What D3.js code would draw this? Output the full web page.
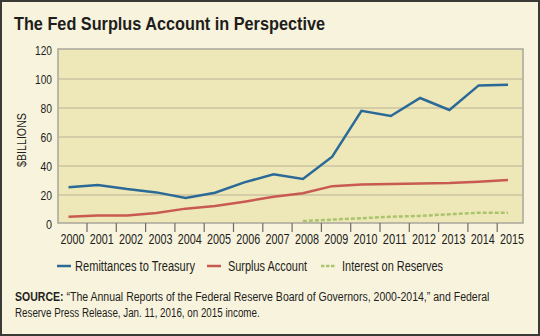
<!DOCTYPE html>
<html>
<head>
<meta charset="utf-8">
<script src="https://cdn.jsdelivr.net/npm/d3@7"></script>
<style>
  html, body { margin: 0; padding: 0; background: #f8f3dc; }
  svg { display: block; font-family: "Liberation Sans", Arial, sans-serif; }
</style>
</head>
<body>
<svg id="chart" width="540" height="336"></svg>
<script>
// Fed remittances, surplus account and interest on reserves, $ billions
var years = d3.range(2000, 2016);
var remittances = [25.3, 26.9, 24.1, 21.8, 17.9, 21.6, 28.7, 34.3, 31.1, 46.4, 78.1, 74.5, 86.9, 78.6, 95.6, 96.1];
var surplus = [5.0, 5.8, 5.9, 7.6, 10.6, 12.4, 15.4, 18.8, 21.2, 26.1, 27.3, 27.6, 28.0, 28.3, 29.2, 30.3];
var interestYears = d3.range(2008, 2016);
var interest = [2.0, 3.0, 4.0, 5.0, 5.6, 6.7, 7.8, 7.8];
var yTicks = [0, 20, 40, 60, 80, 100, 120];

var seriesNames = ["Remittances to Treasury", "Surplus Account", "Interest on Reserves"];
var seriesColors = ["#2b6a96", "#c85a52", "#a9c46c"];

var ink = "#1e1e1c";

// the type is a condensed face, so squeeze each text to its set width
function squeeze(sel, width) {
    sel.attr("textLength", width).attr("lengthAdjust", "spacingAndGlyphs");
}

var svg = d3.select("#chart");

// frame
svg.append("rect")
    .attr("x", 1).attr("y", 1)
    .attr("width", 538).attr("height", 334)
    .attr("fill", "#f8f3dc")
    .attr("stroke", "#3a3a36")
    .attr("stroke-width", 2);

svg.append("text")
    .attr("x", 14).attr("y", 29.5)
    .attr("font-size", 18.5)
    .attr("font-weight", "bold")
    .attr("fill", ink)
    .text("The Fed Surplus Account in Perspective")
    .call(squeeze, 311);

var plot = { left: 58, top: 49, right: 523, bottom: 223 };

var x = d3.scaleLinear().domain([2000, 2015]).range([68.5, 508]);
var y = d3.scaleLinear().domain([0, 120]).range([224, 50]);

svg.append("rect")
    .attr("x", plot.left).attr("y", plot.top)
    .attr("width", plot.right - plot.left)
    .attr("height", plot.bottom - plot.top)
    .attr("fill", "#eee7b8")
    .attr("stroke", "#a8a69c")
    .attr("stroke-width", 1.5);

// horizontal gridlines
svg.append("g")
  .selectAll("line")
  .data(yTicks.filter(function (d) { return d > 0 && d < 120; }))
  .join("line")
    .attr("x1", plot.left).attr("x2", plot.right)
    .attr("y1", function (d) { return y(d); })
    .attr("y2", function (d) { return y(d); })
    .attr("stroke", "#b9b295")
    .attr("stroke-width", 1.2);

// y axis labels
var yAxis = svg.append("g")
    .attr("transform", "translate(" + plot.left + ",0)")
    .call(d3.axisLeft(y).tickValues(yTicks).tickSize(0).tickPadding(6));
yAxis.select(".domain").remove();
yAxis.selectAll("text")
    .attr("font-size", 13)
    .attr("font-family", null)
    .attr("fill", ink)
    .each(function (d) { squeeze(d3.select(this), d >= 100 ? 17 : d > 0 ? 11.5 : 6); });

svg.append("text")
    .attr("transform", "translate(26,140) rotate(-90)")
    .attr("text-anchor", "middle")
    .attr("font-size", 12.5)
    .attr("fill", ink)
    .text("$BILLIONS")
    .call(squeeze, 54);

// x axis: year labels sit on the points, tick marks fall between
var xAxis = svg.append("g")
    .attr("transform", "translate(3.5," + plot.bottom + ")")
    .call(d3.axisBottom(x).tickValues(years).tickFormat(d3.format("d")).tickSize(0).tickPadding(11));
xAxis.select(".domain").remove();
xAxis.selectAll("text")
    .attr("font-size", 14.5)
    .attr("font-family", null)
    .attr("fill", ink)
    .call(squeeze, 24);

svg.append("g")
  .selectAll("line")
  .data(years.slice(0, -1))
  .join("line")
    .attr("x1", function (d) { return x(d) + 18.5; })
    .attr("x2", function (d) { return x(d) + 18.5; })
    .attr("y1", plot.bottom)
    .attr("y2", plot.bottom + 9)
    .attr("stroke", "#6e6c64")
    .attr("stroke-width", 1.2);

var line = d3.line()
    .x(function (d) { return x(d[0]); })
    .y(function (d) { return y(d[1]); });

svg.append("path")
    .datum(d3.zip(interestYears, interest))
    .attr("d", line)
    .attr("fill", "none")
    .attr("stroke", seriesColors[2])
    .attr("stroke-width", 2.5)
    .attr("stroke-dasharray", "4,2");

svg.append("path")
    .datum(d3.zip(years, surplus))
    .attr("d", line)
    .attr("fill", "none")
    .attr("stroke", seriesColors[1])
    .attr("stroke-width", 2.5);

svg.append("path")
    .datum(d3.zip(years, remittances))
    .attr("d", line)
    .attr("fill", "none")
    .attr("stroke", seriesColors[0])
    .attr("stroke-width", 2.5);

// legend
var legendX = [57, 207, 321];
var legendW = [120, 79, 101];
var legend = svg.append("g")
  .selectAll("g")
  .data(seriesNames)
  .join("g")
    .attr("transform", function (d, i) { return "translate(" + legendX[i] + ",266)"; });

legend.append("line")
    .attr("x1", 0).attr("x2", 14)
    .attr("stroke", function (d, i) { return seriesColors[i]; })
    .attr("stroke-width", 2.5)
    .attr("stroke-dasharray", function (d, i) { return i == 2 ? "3.5,1.5" : null; });

legend.append("text")
    .attr("x", function (d, i) { return i == 0 ? 18 : 21; })
    .attr("dy", "0.36em")
    .attr("font-size", 14)
    .attr("fill", ink)
    .text(function (d) { return d; })
    .each(function (d, i) { squeeze(d3.select(this), legendW[i]); });

// source note: each line is scaled horizontally to its width
var sourceLines = [
    { y: 301, width: 475, bold: "SOURCE: ", text: "\u201cThe Annual Reports of the Federal Reserve Board of Governors, 2000-2014,\u201d and Federal" },
    { y: 317, width: 245, bold: "", text: "Reserve Press Release, Jan. 11, 2016, on 2015 income." }
];

sourceLines.forEach(function (s) {
    var g = svg.append("g");
    var t = g.append("text")
        .attr("font-size", 13.5)
        .attr("fill", ink);
    if (s.bold) t.append("tspan").attr("font-weight", "bold").text(s.bold);
    t.append("tspan").text(s.text);
    var natural = t.node().getComputedTextLength();
    g.attr("transform", "translate(15," + s.y + ") scale(" + (s.width / natural) + ",1)");
});
</script>
</body>
</html>
